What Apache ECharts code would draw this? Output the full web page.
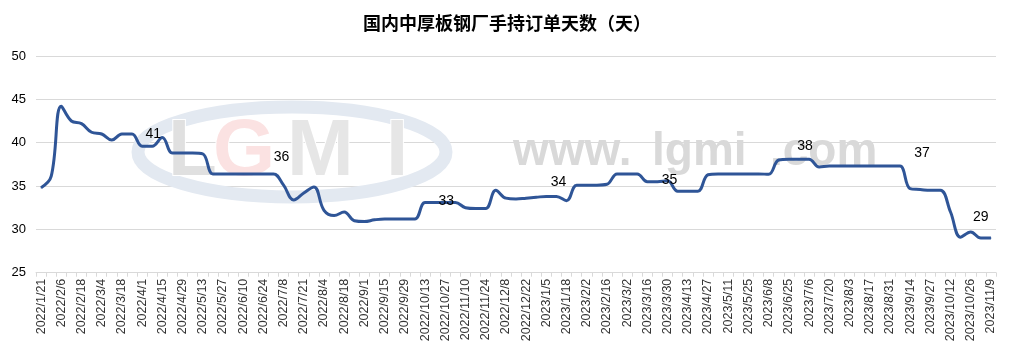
<!DOCTYPE html>
<html>
<head>
<meta charset="utf-8">
<script src="https://cdn.jsdelivr.net/npm/echarts@6/dist/echarts.min.js"></script>
<style>
html,body{margin:0;padding:0;background:#fff;}
#chart{width:1014px;height:360px;}
</style>
</head>
<body>
<div id="chart"></div>
<script>
var titleText = '国内中厚板钢厂手持订单天数（天）';

var categories = [
'2022/1/21','2022/1/28','2022/2/6','2022/2/11','2022/2/18','2022/2/25','2022/3/4','2022/3/11','2022/3/18','2022/3/25',
'2022/4/1','2022/4/8','2022/4/15','2022/4/22','2022/4/29','2022/5/6','2022/5/13','2022/5/20','2022/5/27','2022/6/2',
'2022/6/10','2022/6/17','2022/6/24','2022/7/1','2022/7/8','2022/7/15','2022/7/21','2022/7/29','2022/8/4','2022/8/11',
'2022/8/18','2022/8/25','2022/9/1','2022/9/8','2022/9/15','2022/9/22','2022/9/29','2022/10/9','2022/10/13','2022/10/20',
'2022/10/27','2022/11/3','2022/11/10','2022/11/17','2022/11/24','2022/12/1','2022/12/8','2022/12/15','2022/12/22','2022/12/29',
'2023/1/5','2023/1/12','2023/1/18','2023/1/28','2023/2/2','2023/2/9','2023/2/16','2023/2/23','2023/3/2','2023/3/9',
'2023/3/16','2023/3/23','2023/3/30','2023/4/6','2023/4/13','2023/4/20','2023/4/27','2023/5/4','2023/5/11','2023/5/18',
'2023/5/25','2023/6/1','2023/6/8','2023/6/15','2023/6/25','2023/6/29','2023/7/6','2023/7/13','2023/7/20','2023/7/27',
'2023/8/3','2023/8/10','2023/8/17','2023/8/24','2023/8/31','2023/9/7','2023/9/14','2023/9/21','2023/9/27','2023/10/8',
'2023/10/12','2023/10/19','2023/10/26','2023/11/2','2023/11/9'
];

var orderDays = [
34.8,36.1,44.2,42.5,42.2,41.2,41.0,40.3,41.0,41.0,
39.6,39.6,40.6,38.8,38.8,38.8,38.7,36.4,36.4,36.4,
36.4,36.4,36.4,36.4,35.1,33.4,34.2,34.9,32.2,31.6,
32.0,31.0,30.9,31.1,31.2,31.2,31.2,31.2,33.1,33.1,
33.1,33.1,32.5,32.4,32.4,34.5,33.6,33.5,33.6,33.7,
33.8,33.8,33.3,35.1,35.1,35.1,35.2,36.4,36.4,36.4,
35.5,35.5,35.6,34.4,34.4,34.4,36.3,36.4,36.4,36.4,
36.4,36.4,36.35,38.0,38.1,38.1,38.1,37.2,37.3,37.3,
37.3,37.3,37.3,37.3,37.3,37.3,34.7,34.6,34.5,34.5,
32.0,29.1,29.7,29.0,29.0
];

var yTicks = [25, 30, 35, 40, 45, 50];

// annotation labels attached to data points
var annIndex = [11, 23, 40, 51, 62, 76, 85, 93];
var annText  = ['41', '36', '33', '34', '35', '38', '37', '29'];
var annOffset = [[1,0],[8,-4],[1,11],[2,-2],[2,12],[-4,-1],[22,0],[0,-8]];

var seriesData = orderDays.map(function (v, i) {
  var k = annIndex.indexOf(i);
  if (k < 0) return v;
  return {
    value: v,
    label: {
      show: true,
      position: 'top',
      formatter: annText[k],
      offset: annOffset[k],
      color: '#000',
      fontSize: 14,
      fontFamily: 'Liberation Sans'
    }
  };
});

var chart = echarts.init(document.getElementById('chart'), null, {renderer: 'canvas'});
chart.setOption({
  animation: false,
  backgroundColor: '#fff',
  title: {
    text: titleText,
    left: 'center',
    top: 9,
    textStyle: {fontSize: 18, fontWeight: 'bold', color: '#000', fontFamily: 'Noto Sans CJK SC'}
  },
  grid: {left: 36, right: 18, top: 56, bottom: 87.3, containLabel: false},
  graphic: [
    {type: 'ellipse', z: 1, silent: true, shape: {cx: 292, cy: 152, rx: 154, ry: 45},
     style: {fill: 'none', stroke: '#E3E9F1', lineWidth: 13}},
    {type: 'text', z: 1, silent: true, x: 168, y: 153,
     style: {text: 'L', font: 'bold 80px "Liberation Sans"', fill: '#E0E0E0', stroke: '#fff', lineWidth: 2, verticalAlign: 'middle'}},
    {type: 'text', z: 1, silent: true, x: 213, y: 153,
     style: {text: 'G', font: 'bold 80px "Liberation Sans"', fill: '#FBE2E2', stroke: '#fff', lineWidth: 2, verticalAlign: 'middle'}},
    {type: 'text', z: 1, silent: true, x: 287, y: 153,
     style: {text: 'M', font: 'bold 80px "Liberation Sans"', fill: '#E6E6E6', stroke: '#fff', lineWidth: 2, verticalAlign: 'middle'}},
    {type: 'text', z: 1, silent: true, x: 386, y: 153,
     style: {text: 'I', font: 'bold 80px "Liberation Sans"', fill: '#E6E6E6', stroke: '#fff', lineWidth: 2, verticalAlign: 'middle'}},
    {type: 'text', z: 1, silent: true, x: 513, y: 152,
     style: {text: 'www.', font: 'bold 46px "Liberation Sans"', fill: '#D9D9D9', verticalAlign: 'middle'}},
    {type: 'text', z: 1, silent: true, x: 652, y: 152,
     style: {text: 'lgmi', font: 'bold 46px "Liberation Sans"', fill: '#D9D9D9', verticalAlign: 'middle'}},
    {type: 'text', z: 1, silent: true, x: 770, y: 152,
     style: {text: '.com', font: 'bold 46px "Liberation Sans"', fill: '#D9D9D9', verticalAlign: 'middle'}}
  ],
  xAxis: {
    type: 'category',
    data: categories,
    boundaryGap: true,
    axisLine: {show: true, lineStyle: {color: '#D9D9D9', width: 1}},
    axisTick: {show: true, interval: 0, length: 4, lineStyle: {color: '#D9D9D9'}},
    axisLabel: {
      interval: 1,
      rotate: 90,
      margin: 6,
      fontSize: 12.5,
      color: '#333',
      fontFamily: 'Liberation Sans'
    },
    splitLine: {show: false}
  },
  yAxis: {
    type: 'value',
    min: yTicks[0],
    max: yTicks[yTicks.length - 1],
    interval: 5,
    axisLine: {show: false},
    axisTick: {show: false},
    axisLabel: {fontSize: 13, color: '#000', margin: 10, fontFamily: 'Liberation Sans'},
    splitLine: {show: true, lineStyle: {color: '#D9D9D9', width: 1}}
  },
  series: [{
    type: 'line',
    data: seriesData,
    smooth: 0.4,
    symbol: 'circle',
    symbolSize: 1,
    showSymbol: true,
    showAllSymbol: true,
    z: 3,
    lineStyle: {color: '#2F5597', width: 3},
    itemStyle: {color: '#2F5597'}
  }]
});
</script>
</body>
</html>
